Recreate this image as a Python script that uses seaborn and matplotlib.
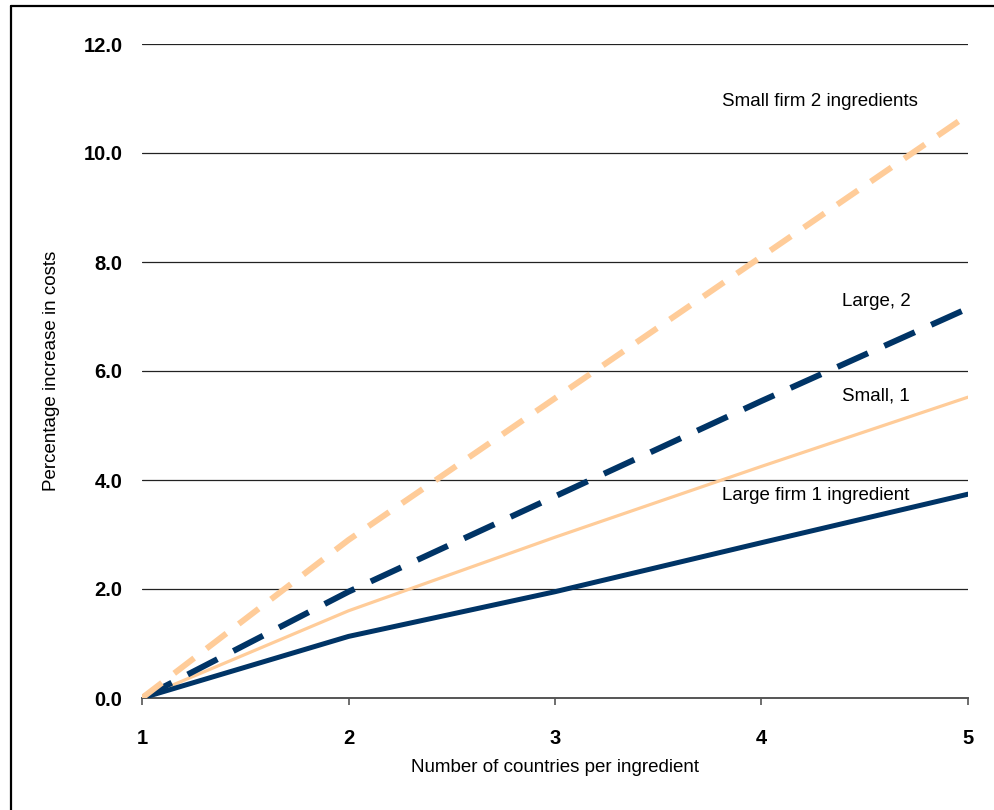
import numpy as np
import pandas as pd
import matplotlib
matplotlib.use("Agg")
import matplotlib.pyplot as plt
from matplotlib.lines import Line2D
import seaborn as sns

countries = [1, 2, 3, 4, 5]
small_2 = [0.0, 2.9, 5.5, 8.1, 10.7]
large_2 = [0.0, 1.95, 3.7, 5.45, 7.15]
small_1 = [0.0, 1.6, 2.95, 4.25, 5.52]
large_1 = [0.0, 1.13, 1.95, 2.85, 3.74]

labels = ["Small firm 2 ingredients", "Large, 2", "Small, 1", "Large firm 1 ingredient"]
y_ticks = [0, 2, 4, 6, 8, 10, 12]

navy = "#003466"
peach = "#FFCC99"

sns.set_theme(style="white")
plt.rcParams["font.family"] = ["Liberation Sans", "DejaVu Sans"]
plt.rcParams["text.color"] = "black"
plt.rcParams["axes.labelcolor"] = "black"
plt.rcParams["xtick.color"] = "black"
plt.rcParams["ytick.color"] = "black"

fig = plt.figure(figsize=(9.94, 8.10), dpi=100)
ax = fig.add_axes([142/994, 1-698/810, (968-142)/994, (698-44)/810])

# gridlines
for yv in y_ticks[1:]:
    ax.axhline(yv, color="#222222", lw=0.9, zorder=1)

sns.lineplot(x=countries, y=small_1, ax=ax, color=peach, linewidth=2.3, zorder=3)
sns.lineplot(x=countries, y=large_1, ax=ax, color=navy, linewidth=3.6, zorder=3,
             solid_capstyle="round")
sns.lineplot(x=countries, y=large_2, ax=ax, color=navy, linewidth=4.3, zorder=4,
             linestyle=(0, (5.6, 3.0)))
sns.lineplot(x=countries, y=small_2, ax=ax, color=peach, linewidth=4.3, zorder=5,
             linestyle=(0, (4.2, 2.6)))

ax.set_xlim(1, 5)
ax.set_ylim(0, 12)
ax.set_xticks(countries)
ax.set_xticklabels([str(c) for c in countries], fontsize=14.5, fontweight="bold")
ax.set_yticks(y_ticks)
ax.set_yticklabels([f"{v:.1f}" for v in y_ticks], fontsize=14.5, fontweight="bold")

for s in ["top", "right", "left"]:
    ax.spines[s].set_visible(False)
ax.spines["bottom"].set_color("#555555")
ax.spines["bottom"].set_linewidth(1.4)
ax.spines["bottom"].set_zorder(2)
ax.tick_params(axis="x", bottom=True, length=5, width=1.2, color="#555555",
               labelcolor="black", pad=17)
ax.tick_params(axis="y", left=False, length=0, pad=14, labelcolor="black")

ax.set_xlabel("Number of countries per ingredient", fontsize=13.5, labelpad=8)
ax.set_ylabel("Percentage increase in costs", fontsize=13.5, labelpad=17)

ax.text(3.809, 10.95, labels[0], fontsize=13.5, va="center", ha="left")
ax.text(4.39, 7.27, labels[1], fontsize=13.5, va="center", ha="left")
ax.text(4.39, 5.54, labels[2], fontsize=13.5, va="center", ha="left")
ax.text(3.809, 3.72, labels[3], fontsize=13.5, va="center", ha="left")

# outer frame (top and left edges)
fig.add_artist(Line2D([11/994, 1.0], [1-6/810, 1-6/810], color="black", lw=1.6,
                      transform=fig.transFigure))
fig.add_artist(Line2D([11/994, 11/994], [0, 1-6/810], color="black", lw=1.6,
                      transform=fig.transFigure))

fig.savefig("out.png", dpi=100)
